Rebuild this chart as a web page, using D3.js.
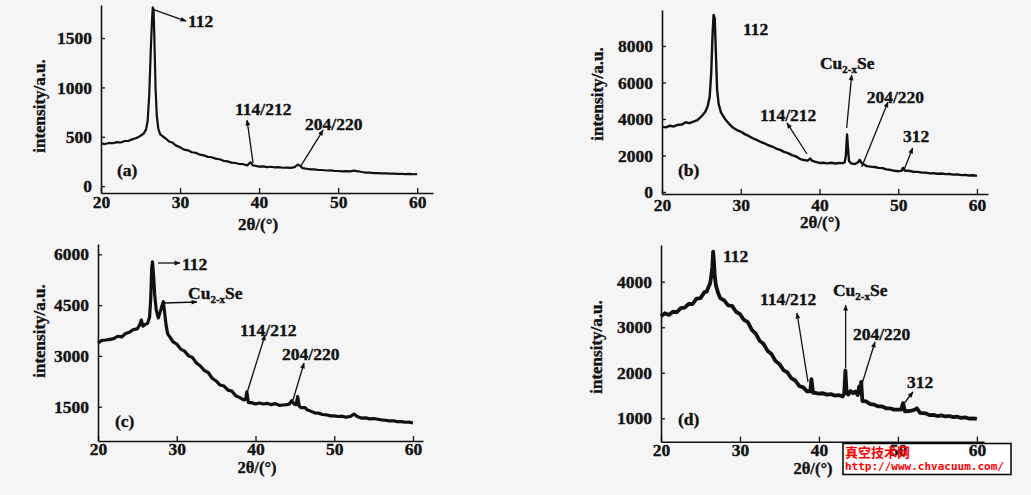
<!DOCTYPE html>
<html><head><meta charset="utf-8">
<script src="https://cdn.jsdelivr.net/npm/d3@7"></script>
<style>body{margin:0;background:#f5f5f5;}svg{display:block;}</style>
</head><body>
<script>
// ---------- DATA ----------
const xTicks = [20, 30, 40, 50, 60];
const yTicksA = [0, 500, 1000, 1500];
const yTicksB = [0, 2000, 4000, 6000, 8000];
const yTicksC = [1500, 3000, 4500, 6000];
const yTicksD = [1000, 2000, 3000, 4000];

const thetaA = [20,20.5,21,21.5,22,22.5,23,23.5,24,24.5,25,25.4,25.7,25.9,26.1,26.3,26.45,26.55,26.65,26.75,26.9,27.05,27.25,27.5,27.8,28.2,28.6,29,29.5,30,30.5,31,31.5,32,32.5,33,33.5,34,34.5,35,35.5,36,36.5,37,37.5,38,38.5,38.9,39.2,39.5,40,40.5,41,41.5,42,42.5,43,43.5,44,44.5,44.9,45.2,45.5,46,46.5,47,47.5,48,48.5,49,49.5,50,50.5,51,51.5,52,52.5,53,53.5,54,54.5,55,55.5,56,56.5,57,57.5,58,58.5,59,59.5,60];
const intA = [432,426,437,434,446,442,457,459,476,487,510,532,575,660,920,1380,1680,1810,1790,1500,1000,720,580,525,505,482,452,442,410,394,370,362,343,337,318,312,296,292,278,272,256,250,238,234,224,222,210,242,210,206,198,200,193,196,190,192,186,188,184,192,218,205,182,176,170,169,163,163,158,159,154,153,149,151,150,156,150,143,137,136,132,132,128,129,126,127,124,125,122,123,120,121];

const thetaB = [20,20.5,21,21.5,22,22.5,23,23.5,24,24.5,25,25.5,25.8,26.05,26.25,26.4,26.55,26.7,26.85,27,27.2,27.5,28,28.5,29,29.5,30,30.5,31,31.5,32,32.5,33,33.5,34,34.5,35,35.5,36,36.5,37,37.5,38,38.5,38.8,39.1,39.5,40,40.5,41,41.5,42,42.5,43,43.2,43.35,43.5,43.6,43.75,44,44.5,44.9,45.1,45.4,46,46.5,47,47.5,48,48.5,49,49.5,50,50.4,50.6,50.8,51.5,52,52.5,53,53.5,54,54.5,55,55.5,56,56.5,57,57.5,58,58.5,59,59.5,60];
const intB = [3580,3540,3630,3590,3680,3690,3820,3770,3860,3940,4140,4400,4700,5200,6500,8400,9700,9500,7500,5600,4800,4350,4000,3740,3530,3390,3310,3170,3070,2950,2860,2750,2670,2560,2490,2380,2310,2200,2130,2020,1950,1820,1750,1720,1830,1700,1650,1590,1600,1570,1600,1560,1590,1580,1620,2000,3150,2500,1700,1570,1530,1630,1760,1560,1420,1390,1370,1320,1310,1240,1210,1160,1140,1160,1320,1180,1150,1100,1100,1060,1060,1020,1030,1000,1010,980,985,950,965,925,935,905,915,885];

const thetaC = [20,20.5,21,21.5,22,22.5,23,23.5,24,24.5,25,25.3,25.5,25.7,26,26.3,26.55,26.7,26.82,26.92,27.05,27.2,27.4,27.65,27.9,28.15,28.3,28.45,28.65,28.85,29.1,29.5,30,30.5,31,31.5,32,32.5,33,33.5,34,34.5,35,35.5,36,36.5,37,37.5,38,38.5,38.75,38.9,39.1,39.5,40,40.5,41,41.5,42,42.5,43,43.5,44,44.3,44.6,44.9,45.15,45.35,45.55,45.8,46.3,46.6,47,47.5,48,48.5,49,49.5,50,50.5,51,51.5,52,52.5,53,53.5,54,54.5,55,55.5,56,56.5,57,57.5,58,58.5,59,59.5,60];
const intC = [3380,3460,3470,3490,3510,3580,3560,3660,3700,3780,3800,3920,4060,3880,3930,3960,4150,4700,5600,5780,5400,4800,4350,4120,4300,4500,4600,4300,3900,3650,3570,3420,3350,3200,3140,3000,2950,2790,2700,2570,2510,2340,2260,2140,2110,1990,1960,1820,1770,1700,1720,1940,1620,1620,1580,1610,1580,1600,1560,1590,1540,1550,1560,1580,1680,1580,1560,1800,1520,1470,1470,1400,1370,1320,1310,1270,1260,1230,1230,1210,1220,1190,1210,1280,1200,1160,1170,1140,1150,1130,1110,1100,1080,1085,1060,1060,1040,1045,1020];

const thetaD = [20,20.5,21,21.5,22,22.5,23,23.5,24,24.5,25,25.5,25.8,26,26.2,26.35,26.5,26.6,26.7,26.8,26.95,27.2,27.5,28,28.5,29,29.5,30,30.5,31,31.5,32,32.5,33,33.5,34,34.5,35,35.5,36,36.5,37,37.5,38,38.5,38.9,39.05,39.25,39.5,40,40.5,41,41.5,42,42.5,43,43.2,43.35,43.5,43.7,44,44.3,44.6,44.9,45.1,45.25,45.35,45.5,46,46.5,47,47.5,48,48.5,49,49.5,50,50.4,50.65,50.9,51.5,52,52.4,52.8,53.5,54,54.5,55,55.5,56,56.5,57,57.5,58,58.5,59,59.5,60];
const intD = [3240,3310,3270,3340,3330,3420,3430,3510,3510,3630,3640,3770,3780,3880,3950,4100,4330,4660,4450,4150,3920,3770,3640,3590,3480,3470,3340,3290,3160,3110,2940,2860,2700,2630,2480,2410,2260,2190,2060,2010,1880,1830,1710,1680,1590,1590,1860,1560,1560,1540,1550,1520,1530,1500,1510,1480,1540,2050,1580,1520,1600,1550,1590,1510,1700,1560,1800,1380,1370,1310,1300,1260,1260,1220,1220,1190,1190,1190,1330,1150,1160,1180,1220,1120,1110,1070,1075,1050,1065,1040,1050,1025,1035,1010,1020,995,1000,985];

const annA = [
  {text:"112", tx:31.0, ty:1611, a:[26.46,1794,30.76,1672]},
  {text:"114/212", tx:36.96, ty:720, a:[39.24,233,38.48,669]},
  {text:"204/220", tx:45.82, ty:568, a:[45.19,193,48.1,568]}
];
const annB = [
  {text:"112", tx:30.29, ty:8603, a:null},
  {text:"Cu|2-x|Se", tx:40.06, ty:6740, a:[43.45,3507,44.09,6411]},
  {text:"204/220", tx:46.0, ty:4877, a:[45.36,1370,48.7,4932]},
  {text:"114/212", tx:32.44, ty:3890, a:[38.41,2082,35.87,3781]},
  {text:"312", tx:50.6, ty:2740, a:[50.73,1205,51.83,2411]}
];
const annC = [
  {text:"112", tx:30.67, ty:5536, a:[27.62,5743,30.41,5743]},
  {text:"Cu|2-x|Se", tx:31.43, ty:4680, a:[28.38,4562,32.57,4591]},
  {text:"114/212", tx:38.03, ty:3584, a:[38.92,1904,41.21,3617]},
  {text:"204/220", tx:43.37, ty:2879, a:[44.76,1698,46.16,2790]}
];
const annD = [
  {text:"112", tx:27.85, ty:4433, a:null},
  {text:"114/212", tx:32.53, ty:3488, a:[38.61,1798,37.22,3313]},
  {text:"Cu|2-x|Se", tx:41.77, ty:3686, a:[43.38,2105,43.38,3488]},
  {text:"204/220", tx:44.3, ty:2720, a:[45.41,1732,47.09,2676]},
  {text:"312", tx:51.14, ty:1665, a:[50.63,1292,51.9,1578]}
];

// ---------- LAYOUT ----------
const W = 1031, H = 495;
const panels = [
  {id:"(a)", theta:thetaA, y:intA, yTicks:yTicksA, ann:annA, L:101, R:433, T:5, B:193, xMax:62, yMin:-70, yMax:1835,
   sw:2.2, lab:[117,176], ytitle:[39,106], xtitle:[258,230], xlabY:208, tsize:17},
  {id:"(b)", theta:thetaB, y:intB, yTicks:yTicksB, ann:annB, L:662, R:988, T:10, B:194, xMax:61.4, yMin:-110, yMax:9970,
   sw:2.4, lab:[678,176], ytitle:[597,94], xtitle:[820,228], xlabY:211, tsize:17},
  {id:"(c)", theta:thetaC, y:intC, yTicks:yTicksC, ann:annC, L:98, R:423, T:244, B:441, xMax:61.27, yMin:487, yMax:6304,
   sw:3.2, lab:[115,427], ytitle:[39,331], xtitle:[257,473], xlabY:455, tsize:16.5},
  {id:"(d)", theta:thetaD, y:intD, yTicks:yTicksD, ann:annD, L:661, R:984, T:245, B:441.7, xMax:60.9, yMin:486, yMax:4806,
   sw:3.8, lab:[678,425], ytitle:[596,347], xtitle:[813,474], xlabY:456, tsize:16.5}
];
const FONT = "'Liberation Serif','Times New Roman',serif";

const svg = d3.select("body").append("svg").attr("width", W).attr("height", H);
svg.append("rect").attr("width", W).attr("height", H).attr("fill", "#f5f5f5");

const defs = svg.append("defs");
defs.append("marker").attr("id","arr").attr("viewBox","0 0 10 10").attr("refX",9).attr("refY",5)
  .attr("markerWidth",7).attr("markerHeight",6).attr("markerUnits","userSpaceOnUse").attr("orient","auto")
  .append("path").attr("d","M0,1 L10,5 L0,9 Z").attr("fill","#111");

// watermark box (under content)
svg.append("rect").attr("x",843).attr("y",443.5).attr("width",168).attr("height",31)
  .attr("fill","#fff").attr("stroke","#000").attr("stroke-width",1.5);

function boldText(sel, size) {
  return sel.attr("font-family", FONT).attr("font-weight","bold").attr("font-size",size)
    .attr("fill","#111").attr("stroke","#111").attr("stroke-width",0.35);
}

panels.forEach(p => {
  const g = svg.append("g");
  const x = d3.scaleLinear().domain([20, p.xMax]).range([p.L, p.R]);
  const y = d3.scaleLinear().domain([p.yMin, p.yMax]).range([p.B, p.T]);

  // x axis
  const xa = g.append("g").attr("transform", `translate(0,${p.B})`)
    .call(d3.axisBottom(x).tickValues(xTicks).tickSizeInner(-5).tickSizeOuter(0).tickPadding(0));
  xa.select(".domain").attr("stroke","#111").attr("stroke-width",1.6);
  xa.selectAll(".tick line").attr("stroke","#111").attr("stroke-width",1.3);
  boldText(xa.selectAll(".tick text").attr("y", p.xlabY - p.B).attr("dy", null), 17.5);

  // y axis
  const ya = g.append("g").attr("transform", `translate(${p.L},0)`)
    .call(d3.axisLeft(y).tickValues(p.yTicks).tickSizeInner(-4).tickSizeOuter(0).tickPadding(9).tickFormat(d3.format("d")));
  ya.select(".domain").attr("stroke","#111").attr("stroke-width",1.6);
  ya.selectAll(".tick line").attr("stroke","#111").attr("stroke-width",1.3);
  boldText(ya.selectAll(".tick text"), 17.5);

  // curve
  const pts = p.theta.map((t,i) => [t, p.y[i]]);
  g.append("path").datum(pts)
    .attr("d", d3.line().x(d => x(d[0])).y(d => y(d[1])))
    .attr("fill","none").attr("stroke","#111").attr("stroke-width", p.sw).attr("stroke-linejoin","round");

  // annotations
  p.ann.forEach(a => {
    if (a.a) {
      g.append("line").attr("x1", x(a.a[0])).attr("y1", y(a.a[1])).attr("x2", x(a.a[2])).attr("y2", y(a.a[3]))
        .attr("stroke","#111").attr("stroke-width",1.3).attr("marker-end","url(#arr)");
    }
    const t = boldText(g.append("text").attr("x", x(a.tx)).attr("y", y(a.ty)), 17.5);
    const parts = a.text.split("|");
    if (parts.length === 3) {
      t.append("tspan").text(parts[0]);
      t.append("tspan").attr("font-size",11).attr("dy",4).text(parts[1]);
      t.append("tspan").attr("dy",-4).text(parts[2]);
    } else t.text(a.text);
  });

  // panel label
  boldText(g.append("text").attr("x", p.lab[0]).attr("y", p.lab[1]).text(p.id), 17.5);
  // titles
  boldText(g.append("text").attr("transform", `translate(${p.ytitle[0]},${p.ytitle[1]}) rotate(-90)`)
    .attr("text-anchor","middle").attr("dominant-baseline","central").text("intensity/a.u."), 17);
  boldText(g.append("text").attr("x", p.xtitle[0]).attr("y", p.xtitle[1]).attr("text-anchor","middle").text("2θ/(°)"), p.tsize);
});

// watermark text
svg.append("text").attr("x",845).attr("y",457).text("真空技术网")
  .attr("font-family","'Noto Sans CJK SC',sans-serif").attr("font-weight","bold").attr("font-size",13).attr("fill","#ff0000");
svg.append("text").attr("x",845).attr("y",470).text("http://www.chvacuum.com/")
  .attr("font-family","'DejaVu Sans Mono',monospace").attr("font-weight","bold").attr("font-size",11).attr("fill","#ff0000");
</script>
</body></html>
